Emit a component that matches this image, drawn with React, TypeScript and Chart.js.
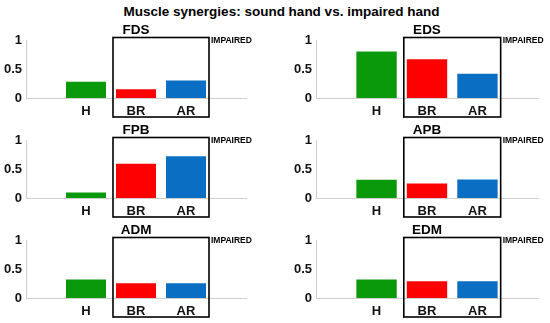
import React, { useEffect, useRef } from "react";
import { Chart, registerables } from "chart.js";

Chart.register(...registerables);

const chartTitle = "Muscle synergies: sound hand vs. impaired hand";
const muscles = ["FDS", "EDS", "FPB", "APB", "ADM", "EDM"];
const categories = ["H", "BR", "AR"];
const healthyValues = [0.28, 0.8, 0.095, 0.315, 0.32, 0.32];
const beforeRehabValues = [0.15, 0.67, 0.59, 0.25, 0.255, 0.29];
const afterRehabValues = [0.3, 0.42, 0.72, 0.32, 0.255, 0.29];
const yTicks = [0, 0.5, 1];
const boxLabel = "IMPAIRED";

const barColors = ["#0a990a", "#ff0000", "#0a6fc2"];
const FONT = "'Liberation Sans', Arial, Helvetica, sans-serif";

const CANVAS_W = 275;
const CANVAS_H = 100;
const rowTops = [20, 120, 220];

function makeConfig(i: number): any {
  const col = i % 2;
  const axisLeft = col ? 41 : 26;
  const rightPad = col ? 12 : 29;
  const values = [healthyValues[i], beforeRehabValues[i], afterRehabValues[i]];
  const decor = {
    id: "panelDecor",
    afterDraw(chart: any) {
      const { ctx, chartArea } = chart;
      const xs = chart.scales.x;
      ctx.save();
      // panel title
      ctx.fillStyle = "#000";
      ctx.font = `bold 13.5px ${FONT}`;
      ctx.textAlign = "center";
      ctx.textBaseline = "alphabetic";
      ctx.fillText(muscles[i], (chartArea.left + chartArea.right) / 2, chartArea.top - 6.5);
      // impaired box
      const left = xs.getPixelForValue(1.54);
      const right = xs.getPixelForValue(3.46);
      const top = chartArea.top - 2.5;
      const bottom = chartArea.bottom + 19;
      ctx.strokeStyle = "#000";
      ctx.lineWidth = 1.6;
      ctx.strokeRect(left, top, right - left, bottom - top);
      ctx.font = `bold 8.5px ${FONT}`;
      ctx.textAlign = "left";
      ctx.fillText(boxLabel, right + 2, top + 5.5);
      ctx.restore();
    },
  };
  return {
    type: "bar",
    data: {
      datasets: [
        {
          data: values.map((v, k) => ({ x: k + 1, y: v })),
          backgroundColor: barColors,
          borderWidth: 0,
          barPercentage: 1,
          categoryPercentage: 0.8,
        },
      ],
    },
    options: {
      responsive: false,
      animation: false,
      devicePixelRatio: 1,
      layout: { padding: { top: 20, left: 0, right: rightPad, bottom: 0 } },
      plugins: { legend: { display: false }, tooltip: { enabled: false }, title: { display: false } },
      scales: {
        x: {
          type: "linear",
          min: -0.2,
          max: 4.2,
          offset: false,
          afterBuildTicks: (s: any) => {
            s.ticks = categories.map((_, k) => ({ value: k + 1 }));
          },
          afterFit: (s: any) => {
            s.height = 22;
          },
          grid: { display: false, drawTicks: false, offset: false },
          border: { display: true, color: "#cfcfcf", width: 1 },
          ticks: {
            autoSkip: false,
            maxRotation: 0,
            padding: 6,
            color: "#111",
            font: { family: FONT, size: 13, weight: "bold" },
            callback: (v: any) => categories[Math.round(v) - 1] ?? "",
          },
        },
        y: {
          min: 0,
          max: 1,
          afterBuildTicks: (s: any) => {
            s.ticks = yTicks.map((v) => ({ value: v }));
          },
          afterFit: (s: any) => {
            s.width = axisLeft;
          },
          grid: { display: false, drawTicks: false },
          border: { display: true, color: "#cfcfcf", width: 1 },
          ticks: {
            padding: 4,
            color: "#111",
            font: { family: FONT, size: 13, weight: "bold" },
            callback: (v: any) => String(v),
          },
        },
      },
    },
    plugins: [decor],
  };
}

export default function App() {
  const refs = useRef<(HTMLCanvasElement | null)[]>([]);
  useEffect(() => {
    const charts = muscles.map((_, i) => new Chart(refs.current[i] as HTMLCanvasElement, makeConfig(i)));
    return () => charts.forEach((c) => c.destroy());
  }, []);
  return (
    <div style={{ position: "fixed", left: 0, top: 0, width: 550, height: 323, background: "#fff", overflow: "hidden" }}>
      <div
        style={{
          position: "absolute",
          left: 0,
          top: 4,
          width: 563,
          textAlign: "center",
          fontFamily: FONT,
          fontWeight: "bold",
          fontSize: 13.5,
          lineHeight: "16px",
          color: "#000",
        }}
      >
        {chartTitle}
      </div>
      {muscles.map((m, i) => (
        <canvas
          key={m}
          ref={(el) => {
            refs.current[i] = el;
          }}
          width={CANVAS_W}
          height={CANVAS_H}
          style={{
            position: "absolute",
            left: (i % 2) * CANVAS_W,
            top: rowTops[Math.floor(i / 2)],
            width: CANVAS_W,
            height: CANVAS_H,
          }}
        />
      ))}
    </div>
  );
}
